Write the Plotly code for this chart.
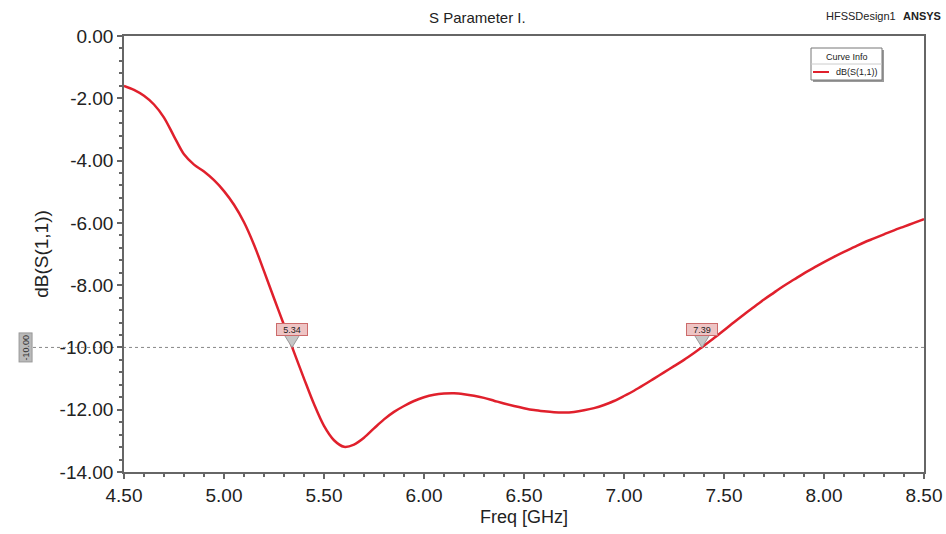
import plotly.graph_objects as go

# ---- data ----
freq = [4.50, 4.55, 4.60, 4.65, 4.70, 4.75, 4.80, 4.85, 4.90, 4.95,
        5.00, 5.05, 5.10, 5.15, 5.20, 5.25, 5.30, 5.35, 5.40, 5.45,
        5.50, 5.55, 5.60, 5.65, 5.70, 5.75, 5.80, 5.85, 5.90, 5.95,
        6.00, 6.05, 6.10, 6.15, 6.20, 6.25, 6.30, 6.35, 6.40, 6.45,
        6.50, 6.55, 6.60, 6.65, 6.70, 6.75, 6.80, 6.85, 6.90, 6.95,
        7.00, 7.05, 7.10, 7.15, 7.20, 7.25, 7.30, 7.35, 7.40, 7.45,
        7.50, 7.55, 7.60, 7.65, 7.70, 7.75, 7.80, 7.85, 7.90, 7.95,
        8.00, 8.05, 8.10, 8.15, 8.20, 8.25, 8.30, 8.35, 8.40, 8.45, 8.50]
s11_db = [-1.60, -1.73, -1.92, -2.20, -2.62, -3.22, -3.80, -4.13, -4.35, -4.63,
          -4.98, -5.42, -5.98, -6.70, -7.55, -8.42, -9.28, -10.15, -11.00, -11.82,
          -12.52, -12.98, -13.19, -13.12, -12.90, -12.60, -12.31, -12.07, -11.88, -11.72,
          -11.60, -11.52, -11.48, -11.47, -11.50, -11.55, -11.62, -11.71, -11.80, -11.88,
          -11.95, -12.01, -12.05, -12.08, -12.09, -12.07, -12.02, -11.95, -11.85, -11.72,
          -11.56, -11.39, -11.20, -11.00, -10.80, -10.60, -10.40, -10.18, -9.95, -9.70,
          -9.45, -9.19, -8.94, -8.70, -8.46, -8.24, -8.02, -7.82, -7.62, -7.44,
          -7.26, -7.09, -6.93, -6.78, -6.63, -6.50, -6.37, -6.24, -6.12, -6.00, -5.88]

marker_freqs = [5.34, 7.39]
marker_labels = ["5.34", "7.39"]
ref_level = -10.0
ref_label = "-10.00"

x_tickvals = [4.5, 5.0, 5.5, 6.0, 6.5, 7.0, 7.5, 8.0, 8.5]
x_ticktext = ["4.50", "5.00", "5.50", "6.00", "6.50", "7.00", "7.50", "8.00", "8.50"]
y_tickvals = [0, -2, -4, -6, -8, -10, -12, -14]
y_ticktext = ["0.00", "-2.00", "-4.00", "-6.00", "-8.00", "-10.00", "-12.00", "-14.00"]

title_text = "S Parameter I."
design_text = "HFSSDesign1"
brand_text = "ANSYS"
legend_title = "Curve Info"
legend_entry = "dB(S(1,1))"

# ---- styling ----
FONT = "Liberation Sans, Arial, sans-serif"
RED = "#e0202c"
AXIS = "#666666"
W, H = 946, 534
L, R, T, B = 124, 22, 36, 62
PW, PH = W - L - R, H - T - B


def px(xp):
    return (xp - L) / PW


def py(yp):
    return (H - B - yp) / PH


fig = go.Figure()
fig.add_trace(go.Scatter(x=freq, y=s11_db, mode="lines",
                         line=dict(color=RED, width=2.5, shape="spline", smoothing=0.9),
                         showlegend=False, hoverinfo="x+y"))

shapes = []
annotations = []

# reference dashed line
shapes.append(dict(type="line", xref="paper", yref="y", x0=px(27), x1=1, y0=ref_level, y1=ref_level,
                   line=dict(color="#888888", width=1, dash="dot"), layer="below"))
annotations.append(dict(xref="paper", yref="y", x=px(19), y=ref_level, text=ref_label, textangle=-90,
                        showarrow=False, font=dict(family=FONT, size=9, color="#333333"),
                        bgcolor="#b9b9b9", bordercolor="#999999", borderwidth=1, borderpad=1))

# markers
for f, lab in zip(marker_freqs, marker_labels):
    shapes.append(dict(type="path", xref="x", yref="y", xsizemode="pixel", ysizemode="pixel",
                       xanchor=f, yanchor=ref_level, path="M 0 0 L -8 13 L 8 13 Z",
                       fillcolor="#c6c6c6", line=dict(color="#9a9a9a", width=1)))
    annotations.append(dict(xref="x", yref="y", x=f, y=ref_level, yshift=18, text=lab,
                            showarrow=False, font=dict(family=FONT, size=9, color="#222222"),
                            bgcolor="#eec4c4", bordercolor="#cc6b6b", borderwidth=1, borderpad=0,
                            width=30, height=11))

# legend box (drawn)
shapes.append(dict(type="rect", xref="paper", yref="paper", x0=px(813), x1=px(884), y0=py(82), y1=py(50),
                   fillcolor="#9a9a9a", line=dict(width=0)))
shapes.append(dict(type="rect", xref="paper", yref="paper", x0=px(811), x1=px(882), y0=py(80), y1=py(48),
                   fillcolor="white", line=dict(color="#777777", width=1)))
shapes.append(dict(type="line", xref="paper", yref="paper", x0=px(811), x1=px(882), y0=py(64), y1=py(64),
                   line=dict(color="#cccccc", width=1)))
shapes.append(dict(type="line", xref="paper", yref="paper", x0=px(813), x1=px(829), y0=py(72), y1=py(72),
                   line=dict(color=RED, width=2)))
annotations.append(dict(xref="paper", yref="paper", x=px(847), y=py(57), text=legend_title, showarrow=False,
                        font=dict(family=FONT, size=9, color="#222222"), xanchor="center", yanchor="middle"))
annotations.append(dict(xref="paper", yref="paper", x=px(880), y=py(72), text=legend_entry, showarrow=False,
                        font=dict(family=FONT, size=9, color="#222222"), xanchor="right", yanchor="middle"))

# titles
annotations.append(dict(xref="paper", yref="paper", x=px(477), y=py(18), text=title_text, showarrow=False,
                        font=dict(family=FONT, size=15, color="#222222"), xanchor="center", yanchor="middle"))
annotations.append(dict(xref="paper", yref="paper", x=px(898), y=py(16), text=design_text, showarrow=False,
                        font=dict(family=FONT, size=11, color="#222222"), xanchor="right", yanchor="middle"))
annotations.append(dict(xref="paper", yref="paper", x=px(943), y=py(16), text="<b>" + brand_text + "</b>",
                        showarrow=False, font=dict(family=FONT, size=11, color="#222222"),
                        xanchor="right", yanchor="middle"))

fig.update_layout(
    width=W, height=H,
    margin=dict(l=L, r=R, t=T, b=B, autoexpand=False),
    paper_bgcolor="white", plot_bgcolor="white",
    font=dict(family=FONT, color="#222222"),
    shapes=shapes, annotations=annotations,
    showlegend=False,
    xaxis=dict(range=[4.5, 8.5], tickvals=x_tickvals, ticktext=x_ticktext, automargin=False,
               showgrid=False, zeroline=False, showline=True, linecolor=AXIS, linewidth=1.5, mirror=True,
               ticks="outside", ticklen=5, tickcolor=AXIS, tickwidth=1.5,
               tickfont=dict(family=FONT, size=19, color="#222222"),
               minor=dict(dtick=0.1, tick0=4.5, ticks="outside", ticklen=3, tickcolor=AXIS, showgrid=False),
               title=dict(text="Freq [GHz]", font=dict(family=FONT, size=18, color="#222222"), standoff=6)),
    yaxis=dict(range=[-14, 0], tickvals=y_tickvals, ticktext=y_ticktext, automargin=False,
               showgrid=False, zeroline=False, showline=True, linecolor=AXIS, linewidth=1.5, mirror=True,
               ticks="outside", ticklen=5, tickcolor=AXIS, tickwidth=1.5,
               tickfont=dict(family=FONT, size=19, color="#222222"),
               minor=dict(dtick=0.4, tick0=0, ticks="outside", ticklen=3, tickcolor=AXIS, showgrid=False),
               title=dict(text="dB(S(1,1))", font=dict(family=FONT, size=19, color="#222222"), standoff=6)),
)

fig.write_html("out.html")
